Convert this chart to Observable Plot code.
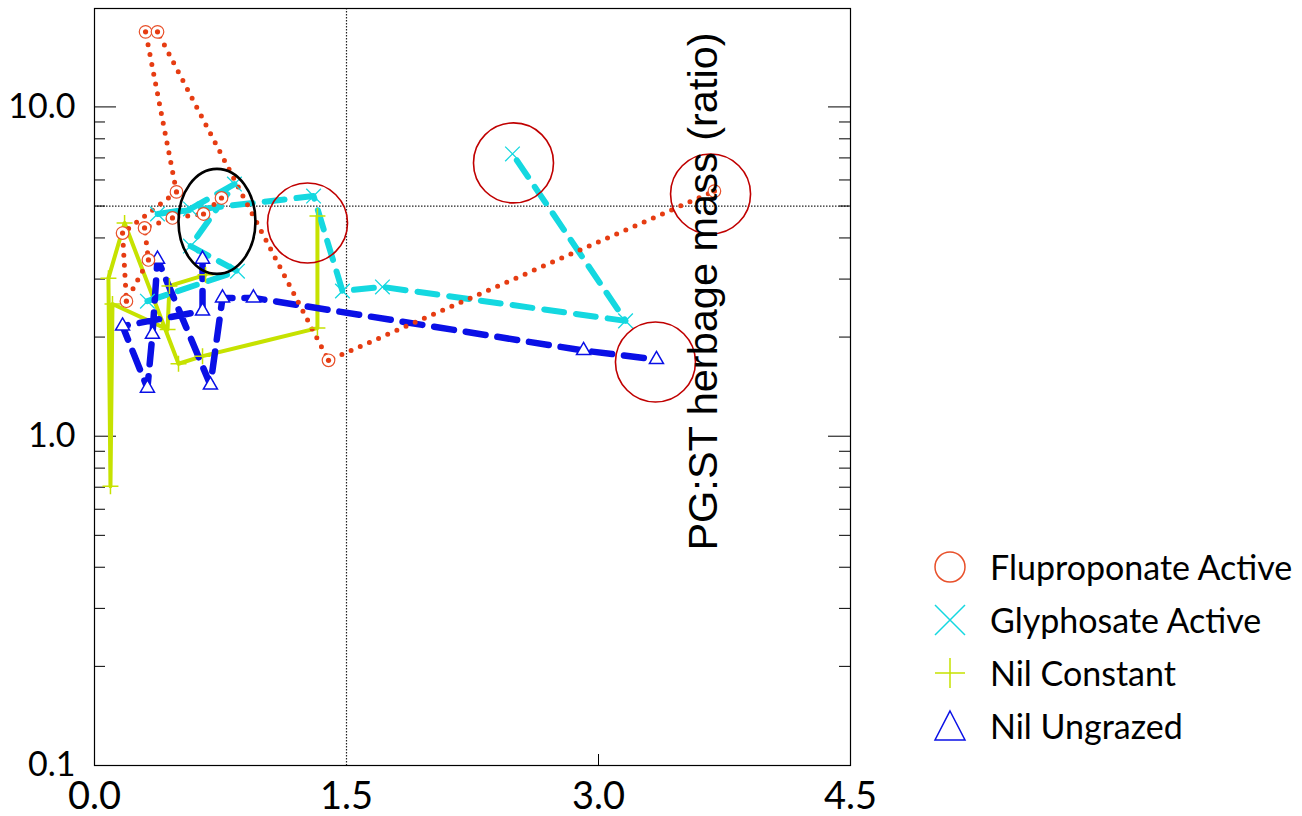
<!DOCTYPE html>
<html><head><meta charset="utf-8">
<script src="https://cdn.jsdelivr.net/npm/d3@7"></script>
<script src="https://cdn.jsdelivr.net/npm/@observablehq/plot@0.6"></script>
<style>
body{margin:0;background:#fff;}
#wrap{position:relative;width:1302px;height:816px;overflow:hidden;}
#legend{position:absolute;left:930px;top:540px;font-family:Lato, "Open Sans", sans-serif;font-size:34px;color:#000;white-space:nowrap;}
.row{display:flex;align-items:center;height:53px;}
.row svg{margin-right:20px;flex:none;}
</style></head><body><div id="wrap"><div id="chart"></div><div id="legend"></div></div>
<script>
// ---- data ----
const seriesNames = ["Fluproponate Active", "Glyphosate Active", "Nil Constant", "Nil Ungrazed"];
const flupX = [0.756, 0.649, 0.464, 0.298, 0.321, 0.190, 0.167, 0.488, 0.304, 0.375, 1.393, 3.690];
const flupY = [5.29, 4.73, 4.60, 4.29, 3.43, 2.57, 4.14, 5.52, 16.9, 16.9, 1.70, 5.55];
const glyX = [0.315, 0.851, 0.571, 0.833, 0.571, 0.375, 1.304, 1.476, 1.714, 3.161, 2.488];
const glyY = [2.57, 3.17, 3.78, 5.83, 4.90, 4.73, 5.36, 2.76, 2.84, 2.24, 7.20];
const nilcX = [1.327, 1.327, 0.643, 0.500, 0.179, 0.083, 0.095, 0.107, 0.435, 0.446, 0.661];
const nilcY = [4.66, 2.13, 1.75, 1.66, 4.44, 3.02, 0.705, 2.52, 2.11, 2.86, 3.09];
const niluX = [0.643, 0.643, 0.167, 0.315, 0.345, 0.375, 0.690, 0.762, 0.946, 2.911, 3.345];
const niluY = [3.45, 2.40, 2.16, 1.40, 2.04, 3.45, 1.43, 2.63, 2.63, 1.82, 1.71];
const highlightX = [1.268, 2.494, 3.667, 3.339];
const highlightY = [4.44, 6.76, 5.44, 1.68];
const ellipseX = [0.729];
const ellipseY = [4.49];
const refX = [1.5];
const refY = [5];
const xTicks = [0, 1.5, 3.0, 4.5];
const xMinorTicks = [3.0];
const yTicks = [0.1, 1, 10];
const yMajorTicks = [1, 10];
const yMinorTicks = [0.2,0.3,0.4,0.5,0.6,0.7,0.8,0.9,2,3,4,5,6,7,8,9];

// ---- styles ----
const colors = {flup: "#e63c12", flupMarker: "#e8502a", gly: "#14d8e0", nilc: "#c6e200", nilu: "#0a10e6", hi: "#c00000"};

const toRows = (xs, ys) => xs.map((x, i) => ({x, y: ys[i]}));
const flup = toRows(flupX, flupY);
const gly = toRows(glyX, glyY);
const nilc = toRows(nilcX, nilcY);
const nilu = toRows(niluX, niluY);
const hi = toRows(highlightX, highlightY);
const ell = toRows(ellipseX, ellipseY);

const W = 1302, H = 816, mL = 94, mR = 452, mT = 8, mB = 51;
const pw = W - mL - mR, ph = H - mT - mB;

const ellipseSymbol = {
  draw(ctx, size) {
    const r = Math.sqrt(size / Math.PI), a = r * 0.733, b = r, k = 0.5523;
    ctx.moveTo(a, 0);
    ctx.bezierCurveTo(a, b * k, a * k, b, 0, b);
    ctx.bezierCurveTo(-a * k, b, -a, b * k, -a, 0);
    ctx.bezierCurveTo(-a, -b * k, -a * k, -b, 0, -b);
    ctx.bezierCurveTo(a * k, -b, a, -b * k, a, 0);
    ctx.closePath();
  }
};

const chart = Plot.plot({
  width: W, height: H,
  marginLeft: mL, marginRight: mR, marginTop: mT, marginBottom: mB,
  x: {domain: [0, 4.5], axis: null},
  y: {type: "log", domain: [0.1, 19.9], axis: null},
  style: {background: "white", overflow: "visible"},
  marks: [
    Plot.ruleX(refX, {x: d => d, stroke: "#222", strokeDasharray: "1.5,1.5", strokeWidth: 1.2}),
    Plot.ruleY(refY, {y: d => d, stroke: "#222", strokeDasharray: "1.5,1.5", strokeWidth: 1.2}),
    // inward ticks
    Plot.tickY(yMinorTicks, {y: d => d, insetRight: pw - 11, stroke: "black"}),
    Plot.tickY(yMajorTicks, {y: d => d, insetRight: pw - 22, stroke: "black"}),
    Plot.tickY(yMinorTicks, {y: d => d, insetLeft: pw - 11, stroke: "black"}),
    Plot.tickY(yMajorTicks, {y: d => d, insetLeft: pw - 22, stroke: "black"}),
    Plot.tickX(xMinorTicks, {x: d => d, insetTop: ph - 11, stroke: "black"}),
    // series lines
    Plot.line(nilc, {x: "x", y: "y", stroke: colors.nilc, strokeWidth: 4}),
    Plot.line(gly, {x: "x", y: "y", stroke: colors.gly, strokeWidth: 6, strokeDasharray: "20,12"}),
    Plot.line(nilu, {x: "x", y: "y", stroke: colors.nilu, strokeWidth: 6.5, strokeDasharray: "20,12"}),
    Plot.line(flup, {x: "x", y: "y", stroke: colors.flup, strokeWidth: 5, strokeDasharray: "0,10", strokeLinecap: "round"}),
    // markers
    Plot.dot(nilc, {x: "x", y: "y", symbol: "plus", r: 5.2, stroke: colors.nilc, strokeWidth: 1.5}),
    Plot.dot(gly, {x: "x", y: "y", symbol: "times", r: 6.7, stroke: colors.gly, strokeWidth: 1.3}),
    Plot.dot(nilu, {x: "x", y: "y", symbol: "triangle2", r: 6.7, stroke: colors.nilu, strokeWidth: 1.5, fill: "white"}),
    Plot.dot(flup, {x: "x", y: "y", r: 6.3, stroke: colors.flupMarker, strokeWidth: 1.2, fill: "white"}),
    Plot.dot(flup, {x: "x", y: "y", r: 2.6, fill: colors.flup, stroke: "none"}),
    // highlights
    Plot.dot(hi, {x: "x", y: "y", r: 40, stroke: colors.hi, strokeWidth: 1.6, fill: "none"}),
    Plot.dot(ell, {x: "x", y: "y", r: 52.5, symbol: ellipseSymbol, stroke: "black", strokeWidth: 2.6, fill: "none"}),
    Plot.frame({stroke: "black", strokeWidth: 1.2}),
    // tick labels
    Plot.text(yTicks, {y: d => d, text: d => d3.format(".1f")(d), frameAnchor: "left", textAnchor: "end", dx: -19, fontSize: 34, fontFamily: "Lato, sans-serif", fill: "black"}),
    Plot.text(xTicks, {x: d => d, text: d => d3.format(".1f")(d), frameAnchor: "bottom", lineAnchor: "middle", dy: 31, fontSize: 38, fontFamily: "Lato, sans-serif", fill: "black"}),
    // axis title inside plot
    Plot.text(["PG:ST herbage mass (ratio)"], {text: d => d, frameAnchor: "top-left", dx: 703 - mL, dy: 291 - mT, rotate: -90, textAnchor: "middle", lineAnchor: "middle", fontSize: 41.5, fontFamily: "Liberation Sans, Arial, sans-serif", fill: "black"})
  ]
});
document.getElementById("chart").appendChild(chart);

// legend
const legendDefs = [
  {name: seriesNames[0], type: "circle", color: colors.flupMarker},
  {name: seriesNames[1], type: "times", color: colors.gly},
  {name: seriesNames[2], type: "plus", color: colors.nilc},
  {name: seriesNames[3], type: "triangle", color: colors.nilu}
];
const leg = d3.select("#legend");
for (const d of legendDefs) {
  const row = leg.append("div").attr("class", "row");
  const svg = row.append("svg").attr("width", 40).attr("height", 40);
  const g = svg.append("g").attr("transform", "translate(20,20)").attr("fill", "none").attr("stroke", d.color).attr("stroke-width", 1.5);
  if (d.type === "circle") g.append("circle").attr("r", 15);
  else if (d.type === "times") g.append("path").attr("d", "M-15,-15L15,15M-15,15L15,-15");
  else if (d.type === "plus") g.append("path").attr("d", "M-15,0L15,0M0,-15L0,15");
  else g.append("path").attr("d", "M0,-15L15,14L-15,14Z");
  row.append("span").text(d.name);
}
</script>
</body></html>
